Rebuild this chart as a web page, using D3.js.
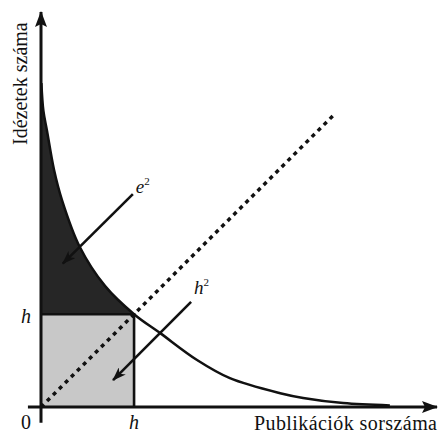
<!DOCTYPE html>
<html>
<head>
<meta charset="utf-8">
<script src="https://cdn.jsdelivr.net/npm/d3@7"></script>
<style>
  html, body { margin: 0; padding: 0; background: #fff; }
  svg { display: block; }
  text { font-family: "Liberation Serif", "Times New Roman", serif; fill: #111; }
</style>
</head>
<body>
<script>
// curve (rank -> citations), in arbitrary units
const ranks     = [0.1, 0.6, 1.5, 3.3, 5.3, 9.8, 16.2, 23.5, 30.1, 39.4, 47.7, 60.4, 66.2, 76.3, 88.1];
const citations = [82, 75, 70, 60, 52.4, 40.5, 30.6, 23.5, 18.7, 11.9, 7.3, 3.5, 2.3, 1.0, 0.4];
const hIndex = 23.5;                 // h: curve meets the diagonal
const diagonalEnd = 74;              // end of the dotted x=y line
const xAxisExtent = [-3.3, 100];
const yAxisExtent = [-4, 100];
// annotation arrows: [from, to] in data units
const e2Arrow = [[23.2, 53.9], [5.5, 36.3]];
const h2Arrow = [[37.9, 26.6], [18.2, 6.8]];

const width = 442, height = 434;
const x = d3.scaleLinear([0, 100], [41, 437]);
const y = d3.scaleLinear([0, 100], [407, 12]);

const pts = ranks.map((r, i) => ({r, c: citations[i]}));

const svg = d3.select("body").append("svg")
    .attr("width", width)
    .attr("height", height);

const defs = svg.append("defs");
defs.append("marker")
    .attr("id", "axisHead")
    .attr("viewBox", "0 0 16 12")
    .attr("refX", 15).attr("refY", 6)
    .attr("markerWidth", 16).attr("markerHeight", 12)
    .attr("markerUnits", "userSpaceOnUse")
    .attr("orient", "auto")
  .append("path")
    .attr("d", "M0,0 L16,6 L0,12 L3,6 Z")
    .attr("fill", "#111");
defs.append("marker")
    .attr("id", "noteHead")
    .attr("viewBox", "0 0 14 10")
    .attr("refX", 13).attr("refY", 5)
    .attr("markerWidth", 14).attr("markerHeight", 10)
    .attr("markerUnits", "userSpaceOnUse")
    .attr("orient", "auto")
  .append("path")
    .attr("d", "M0,0 L14,5 L0,10 L4,5 Z")
    .attr("fill", "#111");

// light square h x h
svg.append("rect")
    .attr("x", x(0)).attr("y", y(hIndex))
    .attr("width", x(hIndex) - x(0))
    .attr("height", y(0) - y(hIndex))
    .attr("fill", "#c8c8c8");

// dark area between y axis and curve, above h
const upper = pts.filter(d => d.c >= hIndex);
svg.append("path")
    .datum(upper)
    .attr("fill", "#262626")
    .attr("d", d3.area()
        .curve(d3.curveCatmullRom)
        .y(d => y(d.c))
        .x0(x(0))
        .x1(d => x(d.r)));

// square edges
svg.append("path")
    .attr("fill", "none")
    .attr("stroke", "#111")
    .attr("stroke-width", 2.6)
    .attr("d", `M${x(0)},${y(hIndex)} H${x(hIndex)} V${y(0)}`);

// dotted diagonal
svg.append("line")
    .attr("x1", x(0)).attr("y1", y(0))
    .attr("x2", x(diagonalEnd)).attr("y2", y(diagonalEnd))
    .attr("stroke", "#111")
    .attr("stroke-width", 3.5)
    .attr("stroke-dasharray", "4,4.5");

// curve
svg.append("path")
    .datum(pts)
    .attr("fill", "none")
    .attr("stroke", "#111")
    .attr("stroke-width", 2.5)
    .attr("d", d3.line()
        .curve(d3.curveCatmullRom)
        .x(d => x(d.r))
        .y(d => y(d.c)));

// axes
svg.append("line")
    .attr("x1", x(xAxisExtent[0])).attr("y1", y(0))
    .attr("x2", x(xAxisExtent[1])).attr("y2", y(0))
    .attr("stroke", "#111").attr("stroke-width", 3)
    .attr("marker-end", "url(#axisHead)");
svg.append("line")
    .attr("x1", x(0)).attr("y1", y(yAxisExtent[0]))
    .attr("x2", x(0)).attr("y2", y(yAxisExtent[1]))
    .attr("stroke", "#111").attr("stroke-width", 3)
    .attr("marker-end", "url(#axisHead)");

// annotation arrows
[e2Arrow, h2Arrow].forEach(a => {
  svg.append("line")
      .attr("x1", x(a[0][0])).attr("y1", y(a[0][1]))
      .attr("x2", x(a[1][0])).attr("y2", y(a[1][1]))
      .attr("stroke", "#111").attr("stroke-width", 2.6)
      .attr("marker-end", "url(#noteHead)");
});

// labels
svg.append("text")
    .attr("transform", `translate(27,145) rotate(-90)`)
    .attr("font-size", 20)
    .text("Idézetek száma");
svg.append("text")
    .attr("x", 254).attr("y", 430)
    .attr("font-size", 20)
    .attr("textLength", 183)
    .text("Publikációk sorszáma");
svg.append("text")
    .attr("x", x(0) - 10).attr("y", 429)
    .attr("text-anchor", "end")
    .attr("font-size", 20)
    .text("0");
svg.append("text")
    .attr("x", x(0) - 10).attr("y", y(hIndex) + 9)
    .attr("text-anchor", "end")
    .attr("font-size", 20)
    .attr("font-style", "italic")
    .text("h");
svg.append("text")
    .attr("x", x(hIndex)).attr("y", 429)
    .attr("text-anchor", "middle")
    .attr("font-size", 20)
    .attr("font-style", "italic")
    .text("h");

function sq(tx, ty, letter) {
  const t = svg.append("text")
      .attr("x", tx).attr("y", ty)
      .attr("font-size", 19);
  t.append("tspan").attr("font-style", "italic").text(letter);
  t.append("tspan").attr("font-size", 11).attr("dy", -8).text("2");
}
sq(x(e2Arrow[0][0]) + 3, y(e2Arrow[0][1]) - 1, "e");
sq(x(h2Arrow[0][0]) + 3, y(h2Arrow[0][1]) - 8, "h");
</script>
</body>
</html>
